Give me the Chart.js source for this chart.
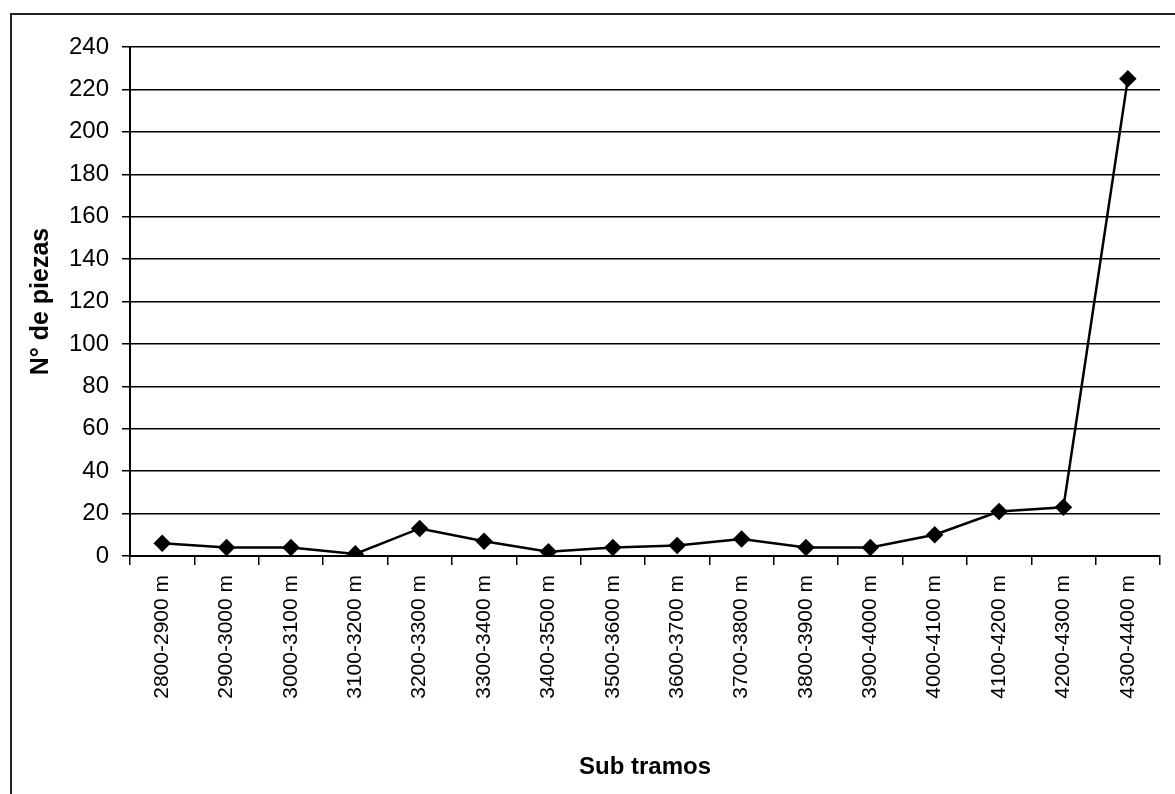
<!DOCTYPE html>
<html>
<head>
<meta charset="utf-8">
<script src="https://cdn.jsdelivr.net/npm/chart.js@4.4.0/dist/chart.umd.min.js"></script>
<style>
  body { margin: 0; background: #fff; }
  #wrap { position: relative; width: 1175px; height: 794px; overflow: hidden; }
  #frame { position: absolute; left: 10px; top: 13px; width: 1200px; height: 820px; border: 2px solid #222; box-sizing: border-box; }
  canvas { position: absolute; left: 0; top: 0; }
</style>
</head>
<body>
<div id="wrap">
  <div id="frame"></div>
  <canvas id="chart" width="1175" height="794"></canvas>
</div>
<script>
const subTramos = [
  '2800-2900 m', '2900-3000 m', '3000-3100 m', '3100-3200 m',
  '3200-3300 m', '3300-3400 m', '3400-3500 m', '3500-3600 m',
  '3600-3700 m', '3700-3800 m', '3800-3900 m', '3900-4000 m',
  '4000-4100 m', '4100-4200 m', '4200-4300 m', '4300-4400 m'
];
const piezas = [6, 4, 4, 1, 13, 7, 2, 4, 5, 8, 4, 4, 10, 21, 23, 225];

const font = 'Arial, "Liberation Sans", sans-serif';

const ctx = document.getElementById('chart').getContext('2d');
new Chart(ctx, {
  type: 'line',
  data: {
    labels: subTramos,
    datasets: [{
      data: piezas,
      borderColor: '#000',
      backgroundColor: '#000',
      borderWidth: 2.5,
      pointStyle: 'rectRot',
      pointRadius: 7,
      tension: 0
    }]
  },
  options: {
    responsive: false,
    animation: false,
    layout: { padding: { top: 47, right: 15, left: 26, bottom: 8 } },
    plugins: { legend: { display: false }, tooltip: { enabled: false } },
    scales: {
      x: {
        offset: true,
        grid: { offset: true, drawOnChartArea: false, color: '#000', lineWidth: 1.5, tickLength: 9 },
        border: { color: '#000', width: 2 },
        ticks: { color: '#000', font: { family: font, size: 21 }, minRotation: 90, maxRotation: 90, padding: 10 },
        title: { display: true, text: 'Sub tramos', color: '#000', font: { family: font, size: 24, weight: 'bold' }, padding: { top: 30 } },
        afterFit: (s) => { s.height = 794 - 556 - 8; }
      },
      y: {
        min: 0,
        max: 240,
        ticks: { stepSize: 20, color: '#000', font: { family: font, size: 24 }, padding: 13 },
        grid: { color: '#000', lineWidth: 1.5, tickLength: 8 },
        border: { color: '#000', width: 2 },
        title: { display: true, text: 'N° de piezas', color: '#000', font: { family: font, size: 25, weight: 'bold' }, padding: 0 },
        afterFit: (s) => { s.width = 130 - 26; }
      }
    }
  }
});
</script>
</body>
</html>
